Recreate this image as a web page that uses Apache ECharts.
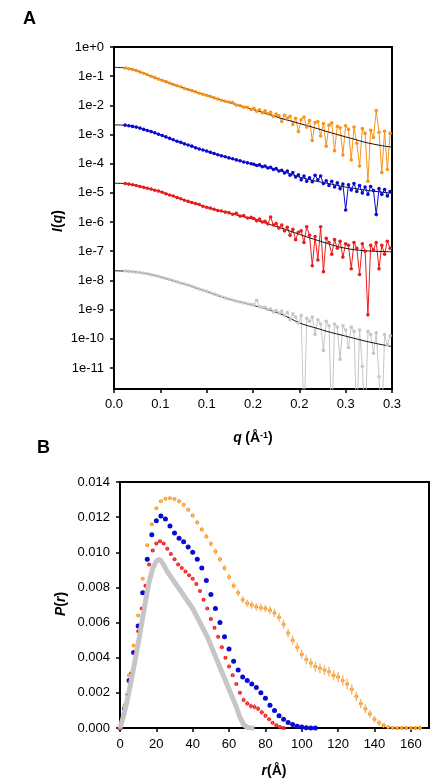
<!DOCTYPE html>
<html><head><meta charset="utf-8">
<script src="https://cdn.jsdelivr.net/npm/echarts/dist/echarts.min.js"></script>
<style>html,body{margin:0;padding:0;background:#fff}#c{width:444px;height:784px}</style>
</head><body><div id="c"></div>
<script>
// ---------- Panel A: I(q) ----------
const qData = [0.012,0.016,0.020,0.024,0.028,0.032,0.036,0.040,0.044,0.048,0.052,0.056,0.060,0.064,0.068,0.072,0.076,0.080,0.084,0.088,0.092,0.096,0.100,0.104,0.108,0.112,0.116,0.120,0.124,0.128,0.132,0.136,0.140,0.144,0.148,
0.151,0.154,0.157,0.160,0.163,0.166,0.169,0.172,0.175,0.178,0.181,0.184,0.187,0.190,0.193,0.196,0.199,0.202,0.205,0.208,0.211,0.214,0.217,0.220,0.223,0.226,0.229,0.232,0.235,0.238,0.241,0.244,0.247,0.250,0.253,0.256,0.259,0.262,0.265,0.268,0.271,0.274,0.277,0.280,0.283,0.286,0.289,0.292,0.295,0.298];

const orangeI = [1.9e-1,1.8e-1,1.7e-1,1.55e-1,1.4e-1,1.26e-1,1.12e-1,1.0e-1,8.9e-2,7.9e-2,7.2e-2,6.5e-2,5.8e-2,5.2e-2,4.7e-2,4.3e-2,3.8e-2,3.5e-2,3.2e-2,2.9e-2,2.6e-2,2.4e-2,2.2e-2,2.0e-2,1.8e-2,1.66e-2,1.5e-2,1.38e-2,1.3e-2,1.26e-2,1.02e-2,9.8e-3,8.7e-3,8.5e-3,7.2e-3,
7.9e-3,6.3e-3,7.1e-3,5.6e-3,6.5e-3,5.1e-3,5.8e-3,4.2e-3,5.0e-3,4.4e-3,2.8e-3,4.6e-3,3.6e-3,4.2e-3,2.2e-3,3.6e-3,1.26e-3,3.2e-3,4.0e-3,1.8e-3,3.0e-3,6.3e-4,2.6e-3,2.8e-3,8.9e-4,2.4e-3,4.0e-4,2.1e-3,2.5e-3,2.8e-4,1.9e-3,1.7e-3,2.0e-4,2.0e-3,1.5e-3,1.35e-4,1.8e-3,5.0e-4,8.3e-5,1.6e-3,1.1e-3,2.5e-5,1.4e-3,7.9e-4,6.6e-3,1.2e-3,5.0e-5,1.3e-3,6.3e-5,1.1e-3];

const blueI = [2.1e-3,2.0e-3,1.9e-3,1.8e-3,1.66e-3,1.5e-3,1.38e-3,1.26e-3,1.15e-3,1.02e-3,9.3e-4,8.3e-4,7.4e-4,6.6e-4,5.9e-4,5.4e-4,4.8e-4,4.4e-4,4.0e-4,3.5e-4,3.2e-4,2.95e-4,2.7e-4,2.45e-4,2.24e-4,2.04e-4,1.86e-4,1.74e-4,1.58e-4,1.48e-4,1.35e-4,1.26e-4,1.15e-4,1.07e-4,1.0e-4,
9.5e-5,8.7e-5,9.1e-5,7.9e-5,8.3e-5,7.1e-5,7.6e-5,6.3e-5,6.8e-5,5.6e-5,6.0e-5,4.8e-5,5.6e-5,4.0e-5,5.0e-5,3.5e-5,4.2e-5,2.8e-5,3.8e-5,2.5e-5,3.3e-5,2.4e-5,4.0e-5,2.8e-5,3.8e-5,2.1e-5,2.6e-5,1.8e-5,2.5e-5,1.6e-5,2.2e-5,1.4e-5,2.0e-5,2.6e-6,1.9e-5,1.26e-5,2.1e-5,1.12e-5,1.8e-5,1.0e-5,1.6e-5,8.9e-6,1.66e-5,1.2e-5,1.8e-6,1.4e-5,8.9e-6,1.3e-5,7.9e-6,1.12e-5];

const redI = [2.1e-5,2.0e-5,1.9e-5,1.8e-5,1.66e-5,1.55e-5,1.45e-5,1.35e-5,1.23e-5,1.15e-5,1.05e-5,9.3e-6,8.5e-6,7.8e-6,6.9e-6,6.3e-6,5.6e-6,5.1e-6,4.7e-6,4.3e-6,4.0e-6,3.5e-6,3.2e-6,3.0e-6,2.75e-6,2.5e-6,2.4e-6,2.2e-6,2.1e-6,1.86e-6,2.0e-6,1.6e-6,1.66e-6,1.38e-6,1.45e-6,
1.32e-6,1.12e-6,1.26e-6,1.0e-6,1.07e-6,8.7e-7,1.48e-6,7.9e-7,8.9e-7,6.3e-7,7.9e-7,5.0e-7,6.6e-7,3.5e-7,5.6e-7,2.5e-7,4.5e-7,5.0e-7,2.0e-7,6.9e-7,3.5e-7,3.2e-8,3.2e-7,5.0e-8,6.9e-7,2.0e-8,2.8e-7,2.0e-7,7.9e-8,2.5e-7,1.26e-7,2.2e-7,6.3e-8,1.8e-7,1.6e-7,2.5e-8,2.0e-7,1.26e-7,1.6e-8,1.8e-7,1.0e-7,6.6e-10,1.6e-7,1.12e-7,2.0e-7,2.5e-8,1.6e-7,7.9e-8,2.2e-7,1.26e-7];

const grayI = [2.1e-8,2.04e-8,2.0e-8,1.9e-8,1.86e-8,1.78e-8,1.7e-8,1.58e-8,1.48e-8,1.38e-8,1.26e-8,1.17e-8,1.07e-8,9.8e-9,8.9e-9,8.1e-9,7.6e-9,6.9e-9,6.3e-9,5.6e-9,5.1e-9,4.6e-9,4.2e-9,3.8e-9,3.4e-9,3.1e-9,2.75e-9,2.5e-9,2.3e-9,2.14e-9,1.95e-9,1.82e-9,1.7e-9,1.58e-9,1.48e-9,
1.45e-9,2.1e-9,1.26e-9,1.17e-9,1.2e-9,1.0e-9,1.05e-9,8.3e-10,9.3e-10,7.6e-10,8.9e-10,6.3e-10,7.9e-10,4.5e-10,7.1e-10,5.6e-10,3.5e-10,6.3e-10,1e-13,5.0e-10,4.0e-10,5.6e-10,1.4e-10,4.5e-10,3.2e-10,4.0e-11,4.0e-10,2.8e-10,1e-13,3.2e-10,2.5e-10,2.0e-11,2.8e-10,2.0e-10,5.0e-11,2.5e-10,1.8e-10,1e-13,2.0e-10,1.12e-11,1e-13,1.8e-10,1.4e-10,3.2e-11,1.6e-10,5.0e-12,1e-13,1.4e-10,6.3e-11,1.26e-10];

const qFit = [0,0.01,0.02,0.03,0.04,0.05,0.06,0.07,0.08,0.09,0.10,0.11,0.12,0.13,0.14,0.15,0.16,0.17,0.18,0.19,0.20,0.21,0.22,0.23,0.24,0.25,0.26,0.27,0.28,0.29,0.30];
const orangeFit = [2.0e-1,1.95e-1,1.7e-1,1.35e-1,1.0e-1,7.6e-2,5.8e-2,4.5e-2,3.5e-2,2.75e-2,2.2e-2,1.74e-2,1.38e-2,1.1e-2,8.9e-3,7.2e-3,5.75e-3,4.6e-3,3.6e-3,2.95e-3,2.4e-3,1.95e-3,1.58e-3,1.26e-3,1.02e-3,8.3e-4,6.8e-4,5.5e-4,4.7e-4,4.1e-4,3.7e-4];
const blueFit = [2.14e-3,2.1e-3,1.9e-3,1.58e-3,1.26e-3,9.8e-4,7.4e-4,5.6e-4,4.4e-4,3.4e-4,2.7e-4,2.14e-4,1.7e-4,1.38e-4,1.15e-4,9.5e-5,8.3e-5,6.9e-5,5.6e-5,4.5e-5,3.5e-5,2.9e-5,2.45e-5,2.14e-5,1.82e-5,1.58e-5,1.41e-5,1.26e-5,1.15e-5,1.05e-5,9.8e-6];
const redFit = [2.14e-5,2.1e-5,1.9e-5,1.62e-5,1.35e-5,1.1e-5,8.5e-6,6.6e-6,5.1e-6,4.1e-6,3.2e-6,2.6e-6,2.2e-6,1.82e-6,1.51e-6,1.26e-6,1.0e-6,7.9e-7,6.3e-7,4.9e-7,3.8e-7,2.95e-7,2.34e-7,1.86e-7,1.48e-7,1.26e-7,1.12e-7,1.05e-7,1.0e-7,9.8e-8,9.5e-8];
const grayFit = [2.14e-8,2.1e-8,2.0e-8,1.82e-8,1.58e-8,1.32e-8,1.07e-8,8.5e-9,6.9e-9,5.4e-9,4.2e-9,3.2e-9,2.5e-9,2.04e-9,1.7e-9,1.41e-9,1.15e-9,9.1e-10,7.1e-10,5.0e-10,3.5e-10,2.75e-10,2.24e-10,1.78e-10,1.48e-10,1.23e-10,1.02e-10,8.5e-11,7.2e-11,6.2e-11,5.4e-11];

const xTicksA = [0,0.05,0.10,0.15,0.20,0.25,0.30];
const xTickLabelsA = ['0.0','0.1','0.1','0.2','0.2','0.3','0.3'];
const yTicksA = [1,1e-1,1e-2,1e-3,1e-4,1e-5,1e-6,1e-7,1e-8,1e-9,1e-10,1e-11];
const yTickLabelsA = ['1e+0','1e-1','1e-2','1e-3','1e-4','1e-5','1e-6','1e-7','1e-8','1e-9','1e-10','1e-11'];

// ---------- Panel B: P(r) ----------
const rOrange = [0,2.5,5,7.5,10,12.5,15,17.5,20,22.5,25,27.5,30,32.5,35,37.5,40,42.5,45,47.5,50,52.5,55,57.5,60,62.5,65,67.5,70,72.5,75,77.5,80,82.5,85,87.5,90,92.5,95,97.5,100,102.5,105,107.5,110,112.5,115,117.5,120,122.5,125,127.5,130,132.5,135,137.5,140,142.5,145,147.5,150,152.5,155,157.5,160,162.5,165];
const pOrange = [0,0.0013,0.0030,0.0047,0.0064,0.0085,0.0104,0.0116,0.0125,0.0129,0.01305,0.01308,0.01303,0.0129,0.0127,0.01242,0.0121,0.0117,0.0113,0.0109,0.01048,0.01005,0.0096,0.0091,0.0086,0.0081,0.0077,0.0073,0.0071,0.0070,0.0069,0.00685,0.0068,0.0067,0.00655,0.0063,0.0059,0.0054,0.0050,0.0046,0.0042,0.0039,0.0037,0.0035,0.0034,0.0033,0.0032,0.0030,0.0029,0.0027,0.0025,0.0022,0.0018,0.0014,0.0011,0.0008,0.0005,0.0003,0.00015,0.00006,0.00002,0,0,0,0,0,0];
const eOrange = [0.00003,0.00005,0.00006,0.00007,0.00008,0.00008,0.00009,0.0001,
0.0001,0.0001,0.00011,0.00011,0.00012,0.00012,0.00012,0.00013,0.00013,0.00014,0.00014,0.00015,0.00015,
0.00016,0.00016,0.00017,0.00018,0.00018,0.00019,0.0002,0.0002,0.00021,0.00021,0.00022,0.00022,
0.00023,0.00023,0.00024,0.00024,0.00025,0.00025,0.00026,0.00026,
0.00027,0.00027,0.00028,0.00028,0.00029,0.00029,0.0003,0.0003,0.0003,0.0003,0.00029,0.00028,0.00027,0.00025,0.00022,0.0002,
0.00017,0.00014,0.00011,0.00008,0.00006,0.00004,0.00003,0.00002,0.00001,0.00001];

const rBlue = [0,2.5,5,7.5,10,12.5,15,17.5,20,22.5,25,27.5,30,32.5,35,37.5,40,42.5,45,47.5,50,52.5,55,57.5,60,62.5,65,67.5,70,72.5,75,77.5,80,82.5,85,87.5,90,92.5,95,97.5,100,102.5,105,107.5];
const pBlue = [0,0.0011,0.0027,0.0043,0.0058,0.0077,0.0096,0.0110,0.0118,0.01206,0.0119,0.0115,0.0111,0.0108,0.0106,0.0103,0.0100,0.0096,0.0091,0.0084,0.0076,0.0068,0.0060,0.0052,0.0045,0.0038,0.0033,0.0029,0.0027,0.0025,0.0023,0.0020,0.0017,0.0013,0.0010,0.0007,0.0005,0.00032,0.0002,0.0001,0.00005,0.00002,0,0];

const rRed = [0,2,4,6,8,10,12,14,16,18,20,22,24,26,28,30,32,34,36,38,40,42,44,46,48,50,52,54,56,58,60,62,64,66,68,70,72,74,76,78,80,82,84,86,88,90];
const pRed = [0,0.0008,0.0019,0.0031,0.0043,0.0055,0.0068,0.0081,0.0093,0.0101,0.0105,0.01063,0.0105,0.0102,0.0099,0.0096,0.0093,0.0091,0.0089,0.0087,0.0085,0.0082,0.0078,0.0073,0.0068,0.0062,0.0057,0.0052,0.0046,0.0040,0.0035,0.0030,0.0025,0.0020,0.0016,0.0014,0.00125,0.0012,0.0011,0.0009,0.0007,0.0005,0.0003,0.00015,0.00005,0];
const eRed = [0.00002,0.00003,0.00004,0.00004,0.00005,0.00005,0.00005,0.00006,0.00006,0.00006,
0.00007,0.00007,0.00007,0.00007,0.00007,0.00007,0.00007,0.00008,0.00008,0.00008,
0.00008,0.00008,0.00008,0.00008,0.00009,0.00009,0.00009,0.00009,0.0001,0.0001,
0.0001,0.0001,0.00011,0.00012,0.00013,0.00014,0.00015,0.00015,0.00015,0.00014,
0.00012,0.0001,0.00008,0.00006,0.00004,0.00002];

const rGray = [0,2,4,6,8,10,12,14,16,18,20,22,24,26,28,30,32,34,36,38,40,42,44,46,48,50,52,54,56,58,60,62,64,66,68,70,72,74];
const pGray = [0,0.0007,0.0016,0.0026,0.0037,0.0048,0.0060,0.0072,0.0083,0.0091,0.0095,0.0096,0.0093,0.0089,0.0086,0.0083,0.0080,0.0077,0.0074,0.0071,0.0068,0.0064,0.0060,0.0056,0.0052,0.0047,0.0042,0.0037,0.0032,0.0027,0.0022,0.0017,0.0012,0.0006,0.0002,0.00003,0,0];

const xTicksB = [0,20,40,60,80,100,120,140,160];

// ---------- styles ----------
const FONT = "'Liberation Sans', Arial, Helvetica, sans-serif";
const C_OR = '#F7941D', C_BL = '#0A0AD2', C_RD = '#EC1C1C', C_GR = '#C6C6C6';
const C_ORE = '#F9BB74', C_RDE = '#F25A5A';

function pairs(xs, ys) { return xs.map((x, i) => [x, ys[i]]); }
// vertical error segments, separated by empty values
function errSegs(xs, ys, es) {
  const out = [];
  xs.forEach((x, i) => { out.push([x, Math.max(0, ys[i] - es[i])], [x, ys[i] + es[i]], [x, '-']); });
  return out;
}
function dataLine(name, ys, color) {
  return { name, type: 'line', xAxisIndex: 0, yAxisIndex: 0, data: pairs(qData, ys),
    symbol: 'circle', symbolSize: 3.6, showSymbol: true, itemStyle: { color },
    lineStyle: { color, width: 1 }, clip: true, silent: true };
}
function fitLine(name, ys) {
  return { name, type: 'line', xAxisIndex: 0, yAxisIndex: 0, data: pairs(qFit, ys), smooth: 0.3,
    showSymbol: false, symbol: 'none', lineStyle: { color: '#111', width: 1 }, clip: true, silent: true };
}
function errLine(name, xs, ys, es, color, w) {
  return { name, type: 'line', xAxisIndex: 1, yAxisIndex: 1, data: errSegs(xs, ys, es),
    showSymbol: false, symbol: 'none', connectNulls: false, lineStyle: { color, width: w }, silent: true };
}
const tickLbl = { color: '#000', fontFamily: FONT, fontSize: 13 };
const axLine = { show: true, lineStyle: { color: '#000', width: 2 } };

const option = {
  animation: false,
  backgroundColor: '#fff',
  grid: [
    { left: 114, top: 47, width: 278, height: 342, show: true, borderColor: '#000', borderWidth: 2, backgroundColor: 'transparent' },
    { left: 120, top: 482, width: 309, height: 246, show: true, borderColor: '#000', borderWidth: 2, backgroundColor: 'transparent' }
  ],
  xAxis: [
    { type: 'value', gridIndex: 0, min: 0, max: 0.30, interval: 0.05,
      axisLine: axLine, axisTick: { show: true, length: 4, lineStyle: { color: '#000', width: 1.5 } },
      axisLabel: Object.assign({ margin: 9, formatter: function (v) { const i = xTicksA.findIndex(t => Math.abs(t - v) < 1e-9); return i >= 0 ? xTickLabelsA[i] : ''; } }, tickLbl),
      splitLine: { show: false } },
    { type: 'value', gridIndex: 1, min: 0, max: 170,
      axisLine: axLine, axisTick: { show: true, length: 4, customValues: xTicksB, lineStyle: { color: '#000', width: 1.5 } },
      axisLabel: Object.assign({ margin: 10, customValues: xTicksB }, tickLbl),
      splitLine: { show: false } }
  ],
  yAxis: [
    { type: 'log', gridIndex: 0, min: 1.9e-12, max: 1,
      axisLine: axLine, axisTick: { show: true, length: 4, customValues: yTicksA, lineStyle: { color: '#000', width: 1.5 } },
      axisLabel: Object.assign({ margin: 10, customValues: yTicksA, formatter: function (v) {
        const i = yTicksA.findIndex(t => Math.abs(Math.log10(t) - Math.log10(v)) < 1e-6); return i >= 0 ? yTickLabelsA[i] : ''; } }, tickLbl),
      splitLine: { show: false }, minorTick: { show: false } },
    { type: 'value', gridIndex: 1, min: 0, max: 0.014, interval: 0.002,
      axisLine: axLine, axisTick: { show: true, length: 4, lineStyle: { color: '#000', width: 1.5 } },
      axisLabel: Object.assign({ margin: 10, formatter: v => v.toFixed(3) }, tickLbl),
      splitLine: { show: false } }
  ],
  series: [
    fitLine('blue fit', blueFit),
    dataLine('orange', orangeI, C_OR),
    dataLine('blue', blueI, C_BL),
    dataLine('red', redI, C_RD),
    dataLine('gray', grayI, C_GR),
    fitLine('orange fit', orangeFit),
    fitLine('red fit', redFit),
    fitLine('gray fit', grayFit),
    // Panel B
    { name: 'gray P(r)', type: 'line', xAxisIndex: 1, yAxisIndex: 1, data: pairs(rGray, pGray),
      showSymbol: false, symbol: 'none', lineStyle: { color: C_GR, width: 5 }, silent: true },
    errLine('red err', rRed, pRed, eRed, C_RDE, 1.2),
    { name: 'red P(r)', type: 'scatter', xAxisIndex: 1, yAxisIndex: 1, data: pairs(rRed, pRed),
      symbol: 'circle', symbolSize: 4, itemStyle: { color: C_RD, opacity: 1 }, silent: true },
    { name: 'blue P(r)', type: 'scatter', xAxisIndex: 1, yAxisIndex: 1, data: pairs(rBlue, pBlue),
      symbol: 'circle', symbolSize: 5, itemStyle: { color: C_BL, opacity: 1 }, silent: true },
    errLine('orange err', rOrange, pOrange, eOrange, C_ORE, 1.5),
    { name: 'orange P(r)', type: 'scatter', xAxisIndex: 1, yAxisIndex: 1, data: pairs(rOrange, pOrange),
      symbol: 'circle', symbolSize: 4, itemStyle: { color: C_OR, opacity: 1 }, silent: true }
  ],
  graphic: [
    { type: 'text', x: 29.5, y: 19.5, style: { text: 'A', font: 'bold 18px ' + FONT, fill: '#000', align: 'center', verticalAlign: 'middle' } },
    { type: 'text', x: 43.5, y: 448, style: { text: 'B', font: 'bold 18px ' + FONT, fill: '#000', align: 'center', verticalAlign: 'middle' } },
    { type: 'text', x: 58, y: 221, rotation: Math.PI / 2,
      style: { text: '{i|I}{b|(}{i|q}{b|)}', align: 'center', verticalAlign: 'middle', fill: '#000',
        rich: { i: { fontFamily: FONT, fontSize: 14, fontWeight: 'bold', fontStyle: 'italic', fill: '#000' },
                b: { fontFamily: FONT, fontSize: 14, fontWeight: 'bold', fill: '#000' } } } },
    { type: 'text', x: 253, y: 438,
      style: { text: '{i|q} {b|(Å}{s|-1}{b|)}', align: 'center', verticalAlign: 'middle', fill: '#000',
        rich: { i: { fontFamily: FONT, fontSize: 14, fontWeight: 'bold', fontStyle: 'italic', fill: '#000' },
                b: { fontFamily: FONT, fontSize: 14, fontWeight: 'bold', fill: '#000' },
                s: { fontFamily: FONT, fontSize: 9, fontWeight: 'bold', fill: '#000', verticalAlign: 'top' } } } },
    { type: 'text', x: 61, y: 604, rotation: Math.PI / 2,
      style: { text: '{i|P}{b|(}{i|r}{b|)}', align: 'center', verticalAlign: 'middle', fill: '#000',
        rich: { i: { fontFamily: FONT, fontSize: 14, fontWeight: 'bold', fontStyle: 'italic', fill: '#000' },
                b: { fontFamily: FONT, fontSize: 14, fontWeight: 'bold', fill: '#000' } } } },
    { type: 'text', x: 274, y: 771,
      style: { text: '{i|r}{b|(Å)}', align: 'center', verticalAlign: 'middle', fill: '#000',
        rich: { i: { fontFamily: FONT, fontSize: 14, fontWeight: 'bold', fontStyle: 'italic', fill: '#000' },
                b: { fontFamily: FONT, fontSize: 14, fontWeight: 'bold', fill: '#000' } } } }
  ]
};

const chart = echarts.init(document.getElementById('c'), null, { renderer: 'canvas', width: 444, height: 784 });
chart.setOption(option);
</script>
</body></html>
